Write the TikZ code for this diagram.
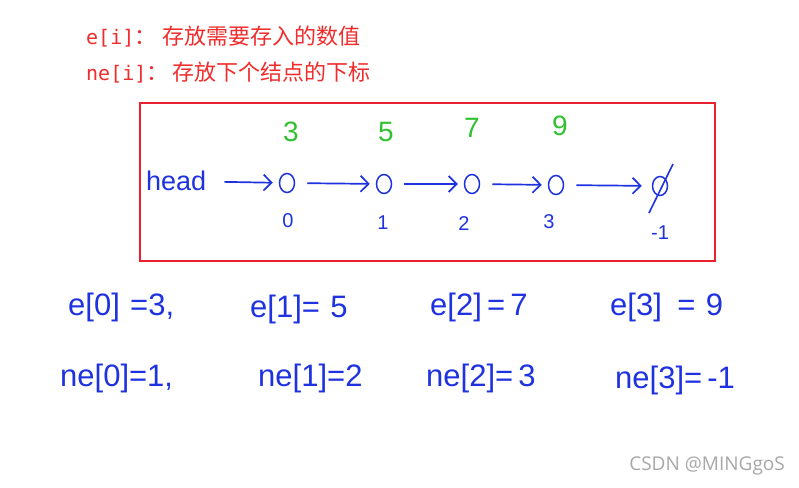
\documentclass[tikz,border=0pt]{standalone}
\usepackage{fontspec}
\setmainfont{Liberation Sans}
\newfontfamily\cjk{Noto Sans CJK SC}
\newfontfamily\monof{DejaVu Sans Mono}
\newfontfamily\wmfont{Open Sans}
\usetikzlibrary{arrows.meta,shapes.geometric}
\definecolor{txtred}{HTML}{F02C2C}
\definecolor{boxred}{HTML}{E82030}
\definecolor{pen}{HTML}{1E32E0}
\definecolor{penGreen}{HTML}{30C030}
\definecolor{wm}{HTML}{A8A8A8}
\tikzset{
  redtxt/.style={anchor=west, inner sep=0pt, text=txtred, font=\fontsize{22}{24}\selectfont},
  hand/.style={inner sep=0pt, text=pen, font=\fontsize{27}{29}\selectfont},
  handbig/.style={anchor=west, inner sep=0pt, text=pen, font=\fontsize{31}{33}\selectfont},
  greennum/.style={inner sep=0pt, text=penGreen, font=\fontsize{28}{30}\selectfont},
  idx/.style={inner sep=0pt, text=pen, font=\fontsize{20}{22}\selectfont},
  elem/.style={draw=pen, line width=1.5pt, ellipse, inner sep=0pt, minimum width=15pt, minimum height=19pt},
  link/.style={draw=pen, line width=1.7pt, -{Straight Barb[length=8pt,width=16pt,line width=1.7pt]}, shorten <=12pt, shorten >=6pt},
}
\begin{document}
\begin{tikzpicture}[x=1pt,y=-1pt]
\useasboundingbox (0,0) rectangle (799,487);
\fill[white] (0,0) rectangle (799,487);

% header text
\node[redtxt] (l1) at (86,37) {\monof\fontsize{20}{22}\selectfont e[i]\cjk\fontsize{22}{24}\selectfont ：\hspace{6pt}存放需要存入的数值};
\node[redtxt] (l2) at (86,73) {\monof\fontsize{20}{22}\selectfont ne[i]\cjk\fontsize{22}{24}\selectfont ：\hspace{4pt}存放下个结点的下标};

% frame
\node[draw=boxred, line width=1.6pt, anchor=north west, minimum width=575pt, minimum height=158pt, inner sep=0pt] (frame) at (139,102) {};

% list
\node[hand, anchor=west] (head) at (146,181) {head};
\node[elem] (c0) at (287,183) {};
\node[elem] (c1) at (384,184) {};
\node[elem] (c2) at (472,184) {};
\node[elem] (c3) at (556,185) {};
\node[elem] (nul) at (660,186) {};
\coordinate (s1) at (673,164);
\coordinate (s2) at (649,213);
\draw[pen, line width=1.6pt] (s1) -- (s2);

\draw[link, shorten <=18pt] (head) -- (c0);
\draw[link] (c0) -- (c1);
\draw[link] (c1) -- (c2);
\draw[link] (c2) -- (c3);
\draw[link, shorten >=10pt] (c3) -- (nul);

% values
\node[greennum] (v0) at (291,132) {3};
\node[greennum] (v1) at (386,132) {5};
\node[greennum] (v2) at (472,128) {7};
\node[greennum] (v3) at (560,126) {9};

% indices
\node[idx] (i0) at (288,221) {0};
\node[idx] (i1) at (383,223) {1};
\node[idx] (i2) at (464,224) {2};
\node[idx] (i3) at (549,222) {3};
\node[idx] (im) at (660,233) {-1};

% arrays
\node[handbig] (e0) at (68,307) {e[0]\,\,=3,};
\node[handbig] (e1) at (250,309) {e[1]=\,\,5};
\node[handbig] (e2) at (430,307) {e[2]\,=\,7};
\node[handbig] (e3) at (610,307) {e[3]\,\,\,=\,\,9};
\node[handbig] (n0) at (60,378) {ne[0]=1,};
\node[handbig] (n1) at (258,378) {ne[1]=2};
\node[handbig] (n2) at (426,378) {ne[2]=\,3};
\node[handbig] (n3) at (615,380) {ne[3]=\,-1};

% watermark
\node[anchor=east, inner sep=0pt, text=wm, font=\wmfont\fontsize{19}{21}\selectfont] (wmk) at (785,466) {CSDN @MINGgoS};
\end{tikzpicture}
\end{document}
